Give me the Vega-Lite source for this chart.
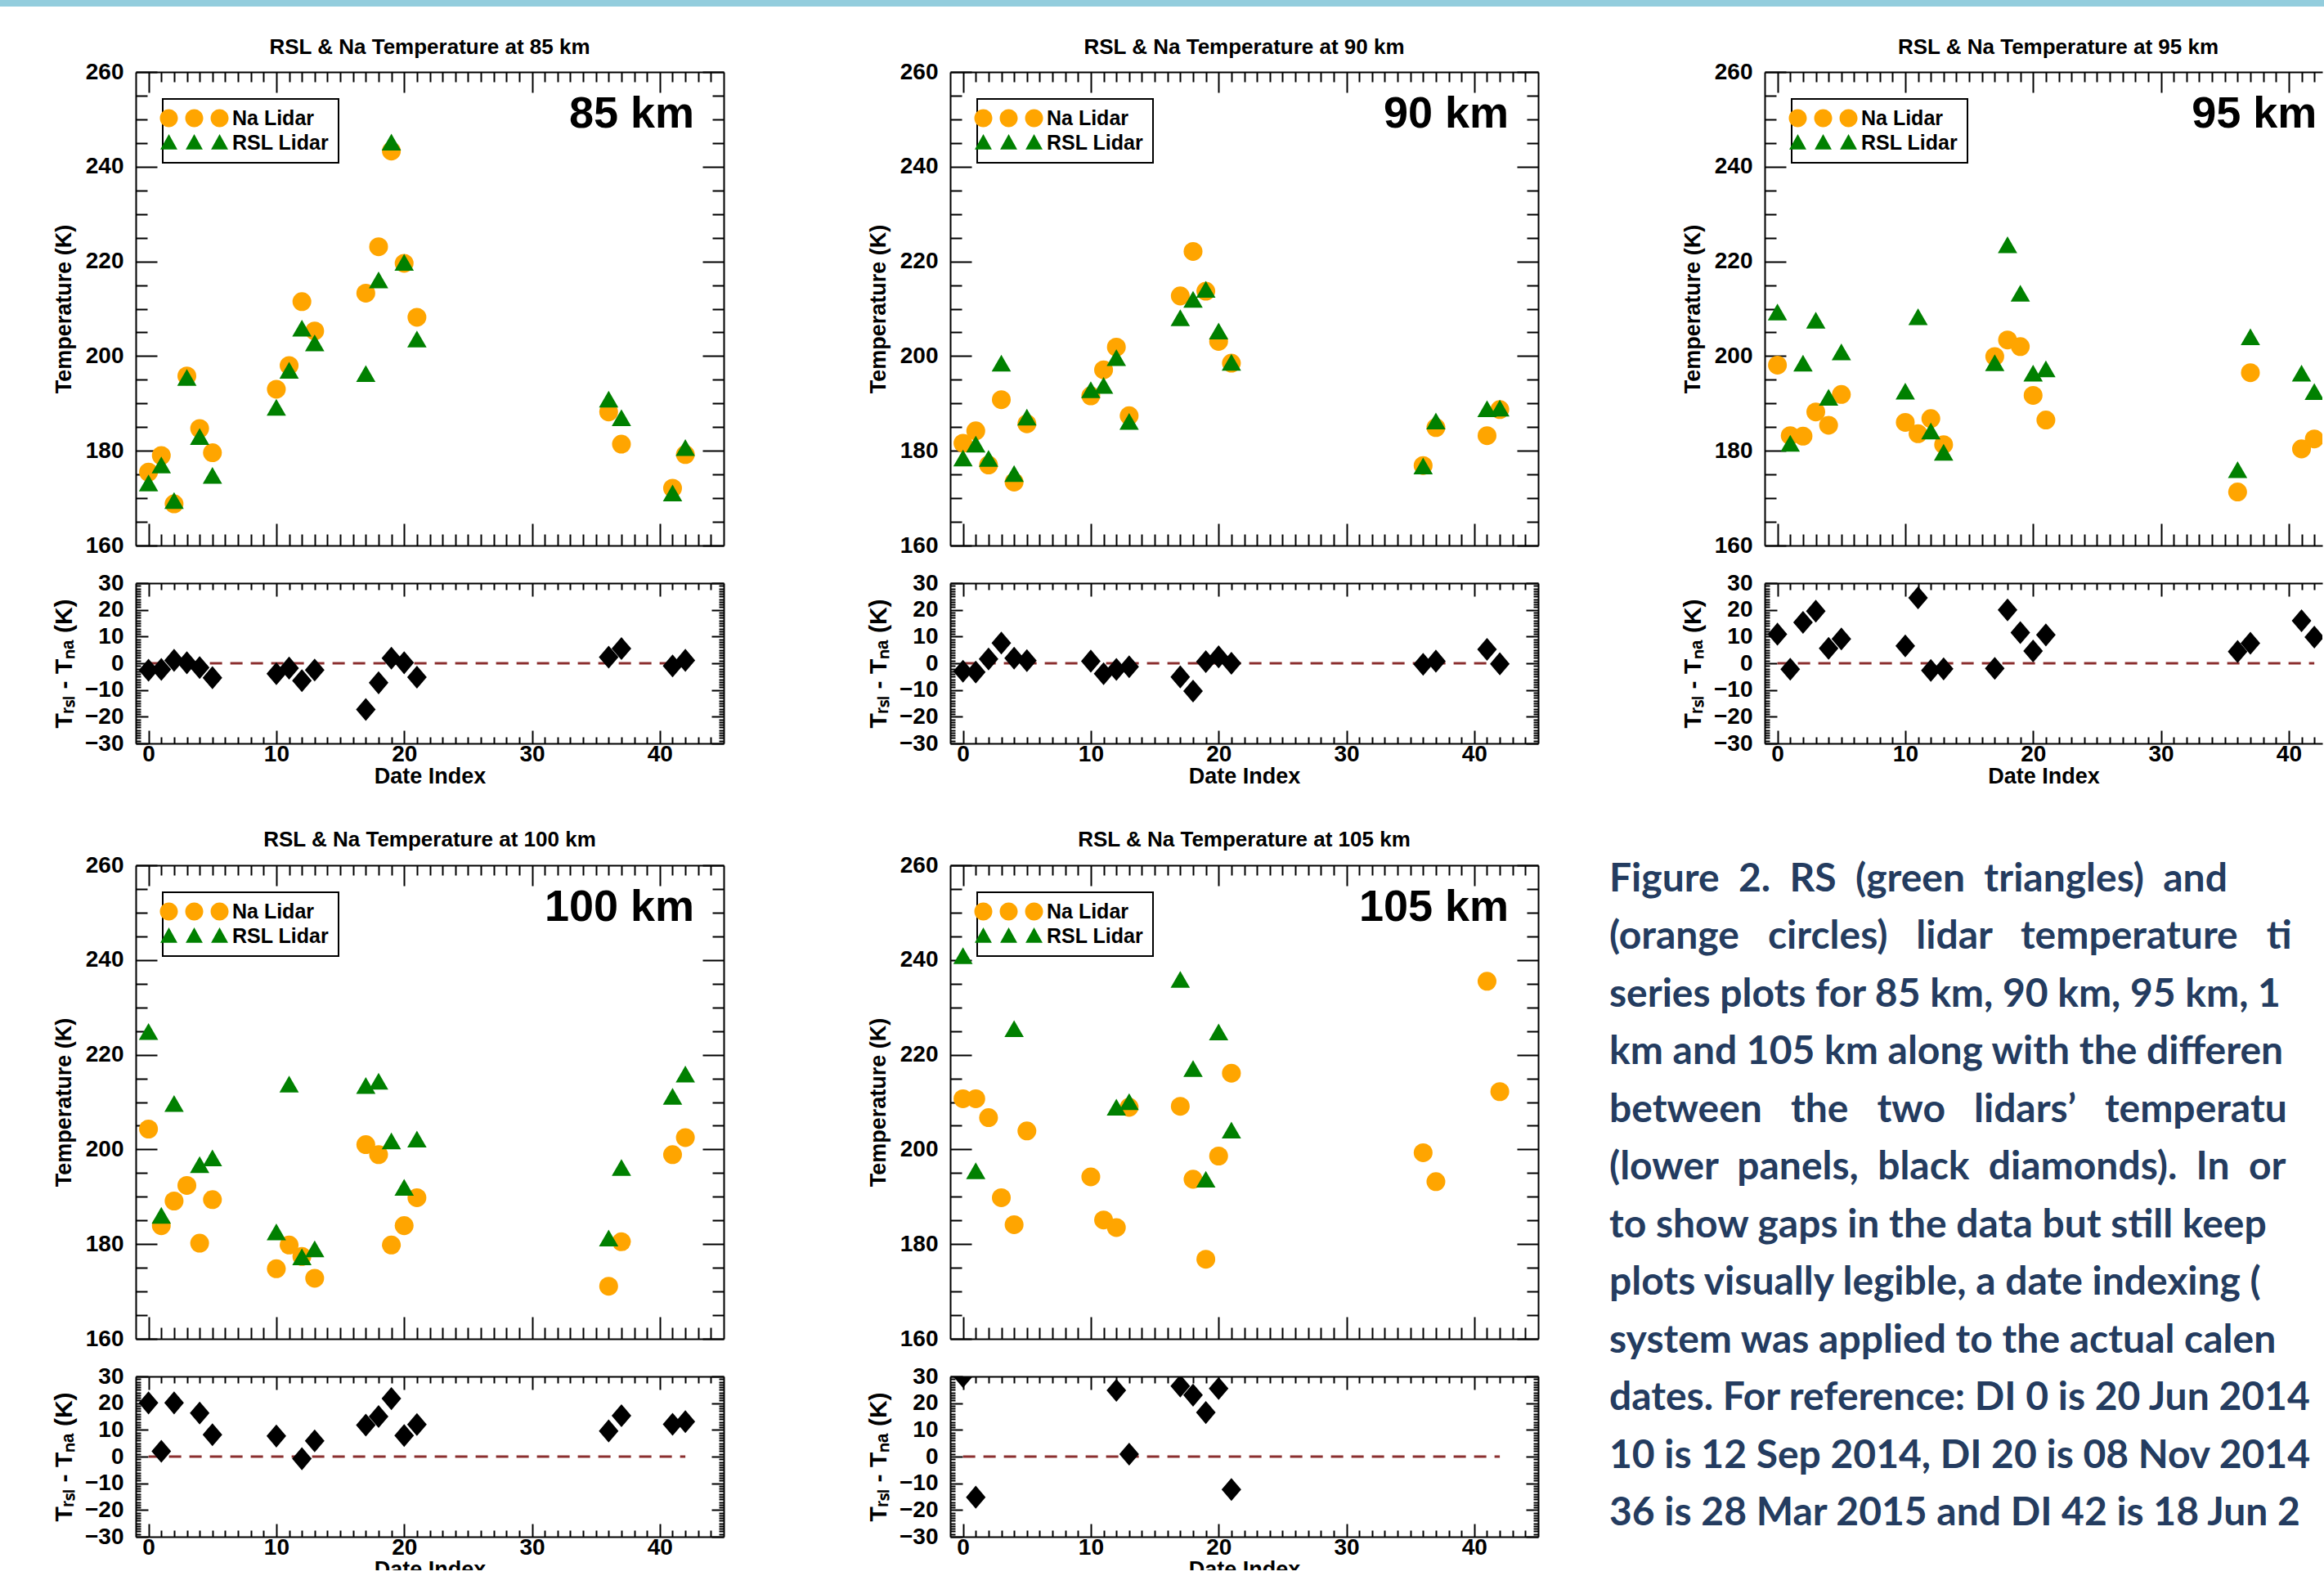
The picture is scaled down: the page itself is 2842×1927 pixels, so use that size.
{
"$schema": "https://vega.github.io/schema/vega-lite/v6.json",
"background": "white",
"padding": {"left": 0, "top": 0, "right": 0, "bottom": -12},
"config": {
 "view": {"stroke": null},
 "font": "Liberation Sans",
 "axis": {"domainColor": "black", "domainWidth": 2, "tickColor": "black", "tickWidth": 2, "labelColor": "black", "labelFont": "Liberation Sans", "labelFontWeight": "bold", "labelFontSize": 28, "titleFont": "Liberation Sans", "titleFontWeight": "bold", "titleFontSize": 27, "titleColor": "black", "grid": false, "labelFlush": false, "labelOverlap": false},
 "legend": {"orient": "top-left", "offset": 33, "padding": 11, "fillColor": "white", "strokeColor": "black", "strokeWidth": 2, "symbolSize": 484, "symbolOffset": -16, "symbolOpacity": 1, "symbolStrokeWidth": 0, "labelOffset": 65, "labelFont": "Liberation Sans", "labelFontWeight": "bold", "labelFontSize": 25, "labelColor": "black", "rowPadding": 4, "labelLimit": 400},
 "title": {"font": "Liberation Sans", "fontWeight": "bold", "color": "black", "fontSize": 26}
},
"datasets": {
 "temps": [
  {"alt":85,"di":0,"lidar":"Na Lidar","T":175.5},{"alt":85,"di":1,"lidar":"Na Lidar","T":179.0},{"alt":85,"di":2,"lidar":"Na Lidar","T":168.8},{"alt":85,"di":3,"lidar":"Na Lidar","T":195.8},{"alt":85,"di":4,"lidar":"Na Lidar","T":184.7},{"alt":85,"di":5,"lidar":"Na Lidar","T":179.6},{"alt":85,"di":10,"lidar":"Na Lidar","T":193.0},{"alt":85,"di":11,"lidar":"Na Lidar","T":198.0},{"alt":85,"di":12,"lidar":"Na Lidar","T":211.5},{"alt":85,"di":13,"lidar":"Na Lidar","T":205.3},{"alt":85,"di":17,"lidar":"Na Lidar","T":213.3},{"alt":85,"di":18,"lidar":"Na Lidar","T":223.1},{"alt":85,"di":19,"lidar":"Na Lidar","T":243.3},{"alt":85,"di":20,"lidar":"Na Lidar","T":219.6},{"alt":85,"di":21,"lidar":"Na Lidar","T":208.2},{"alt":85,"di":36,"lidar":"Na Lidar","T":188.2},{"alt":85,"di":37,"lidar":"Na Lidar","T":181.4},{"alt":85,"di":41,"lidar":"Na Lidar","T":172.1},{"alt":85,"di":42,"lidar":"Na Lidar","T":179.2},
  {"alt":85,"di":0,"lidar":"RSL Lidar","T":173.2},{"alt":85,"di":1,"lidar":"RSL Lidar","T":177.0},{"alt":85,"di":2,"lidar":"RSL Lidar","T":169.5},{"alt":85,"di":3,"lidar":"RSL Lidar","T":195.5},{"alt":85,"di":4,"lidar":"RSL Lidar","T":183.0},{"alt":85,"di":5,"lidar":"RSL Lidar","T":174.8},{"alt":85,"di":10,"lidar":"RSL Lidar","T":189.2},{"alt":85,"di":11,"lidar":"RSL Lidar","T":197.0},{"alt":85,"di":12,"lidar":"RSL Lidar","T":205.9},{"alt":85,"di":13,"lidar":"RSL Lidar","T":202.8},{"alt":85,"di":17,"lidar":"RSL Lidar","T":196.3},{"alt":85,"di":18,"lidar":"RSL Lidar","T":216.1},{"alt":85,"di":19,"lidar":"RSL Lidar","T":245.2},{"alt":85,"di":20,"lidar":"RSL Lidar","T":219.8},{"alt":85,"di":21,"lidar":"RSL Lidar","T":203.6},{"alt":85,"di":36,"lidar":"RSL Lidar","T":190.9},{"alt":85,"di":37,"lidar":"RSL Lidar","T":187.0},{"alt":85,"di":41,"lidar":"RSL Lidar","T":171.1},{"alt":85,"di":42,"lidar":"RSL Lidar","T":180.7},
  {"alt":90,"di":0,"lidar":"Na Lidar","T":181.6},{"alt":90,"di":1,"lidar":"Na Lidar","T":184.2},{"alt":90,"di":2,"lidar":"Na Lidar","T":177.0},{"alt":90,"di":3,"lidar":"Na Lidar","T":190.8},{"alt":90,"di":4,"lidar":"Na Lidar","T":173.4},{"alt":90,"di":5,"lidar":"Na Lidar","T":185.7},{"alt":90,"di":10,"lidar":"Na Lidar","T":191.6},{"alt":90,"di":11,"lidar":"Na Lidar","T":197.1},{"alt":90,"di":12,"lidar":"Na Lidar","T":201.9},{"alt":90,"di":13,"lidar":"Na Lidar","T":187.4},{"alt":90,"di":17,"lidar":"Na Lidar","T":212.7},{"alt":90,"di":18,"lidar":"Na Lidar","T":222.1},{"alt":90,"di":19,"lidar":"Na Lidar","T":213.7},{"alt":90,"di":20,"lidar":"Na Lidar","T":203.1},{"alt":90,"di":21,"lidar":"Na Lidar","T":198.5},{"alt":90,"di":36,"lidar":"Na Lidar","T":176.9},{"alt":90,"di":37,"lidar":"Na Lidar","T":184.9},{"alt":90,"di":41,"lidar":"Na Lidar","T":183.2},{"alt":90,"di":42,"lidar":"Na Lidar","T":188.7},
  {"alt":90,"di":0,"lidar":"RSL Lidar","T":178.5},{"alt":90,"di":1,"lidar":"RSL Lidar","T":181.4},{"alt":90,"di":2,"lidar":"RSL Lidar","T":178.4},{"alt":90,"di":3,"lidar":"RSL Lidar","T":198.5},{"alt":90,"di":4,"lidar":"RSL Lidar","T":175.2},{"alt":90,"di":5,"lidar":"RSL Lidar","T":187.1},{"alt":90,"di":10,"lidar":"RSL Lidar","T":192.9},{"alt":90,"di":11,"lidar":"RSL Lidar","T":193.8},{"alt":90,"di":12,"lidar":"RSL Lidar","T":199.7},{"alt":90,"di":13,"lidar":"RSL Lidar","T":186.2},{"alt":90,"di":17,"lidar":"RSL Lidar","T":208.1},{"alt":90,"di":18,"lidar":"RSL Lidar","T":212.0},{"alt":90,"di":19,"lidar":"RSL Lidar","T":214.1},{"alt":90,"di":20,"lidar":"RSL Lidar","T":205.3},{"alt":90,"di":21,"lidar":"RSL Lidar","T":198.7},{"alt":90,"di":36,"lidar":"RSL Lidar","T":176.8},{"alt":90,"di":37,"lidar":"RSL Lidar","T":186.3},{"alt":90,"di":41,"lidar":"RSL Lidar","T":188.9},{"alt":90,"di":42,"lidar":"RSL Lidar","T":189.0},
  {"alt":95,"di":0,"lidar":"Na Lidar","T":198.1},{"alt":95,"di":1,"lidar":"Na Lidar","T":183.2},{"alt":95,"di":2,"lidar":"Na Lidar","T":183.1},{"alt":95,"di":3,"lidar":"Na Lidar","T":188.2},{"alt":95,"di":4,"lidar":"Na Lidar","T":185.4},{"alt":95,"di":5,"lidar":"Na Lidar","T":191.9},{"alt":95,"di":10,"lidar":"Na Lidar","T":186.0},{"alt":95,"di":11,"lidar":"Na Lidar","T":183.6},{"alt":95,"di":12,"lidar":"Na Lidar","T":186.8},{"alt":95,"di":13,"lidar":"Na Lidar","T":181.3},{"alt":95,"di":17,"lidar":"Na Lidar","T":199.9},{"alt":95,"di":18,"lidar":"Na Lidar","T":203.4},{"alt":95,"di":19,"lidar":"Na Lidar","T":202.0},{"alt":95,"di":20,"lidar":"Na Lidar","T":191.7},{"alt":95,"di":21,"lidar":"Na Lidar","T":186.5},{"alt":95,"di":36,"lidar":"Na Lidar","T":171.3},{"alt":95,"di":37,"lidar":"Na Lidar","T":196.5},{"alt":95,"di":41,"lidar":"Na Lidar","T":180.4},{"alt":95,"di":42,"lidar":"Na Lidar","T":182.5},
  {"alt":95,"di":0,"lidar":"RSL Lidar","T":209.3},{"alt":95,"di":1,"lidar":"RSL Lidar","T":181.6},{"alt":95,"di":2,"lidar":"RSL Lidar","T":198.5},{"alt":95,"di":3,"lidar":"RSL Lidar","T":207.6},{"alt":95,"di":4,"lidar":"RSL Lidar","T":191.3},{"alt":95,"di":5,"lidar":"RSL Lidar","T":200.9},{"alt":95,"di":10,"lidar":"RSL Lidar","T":192.6},{"alt":95,"di":11,"lidar":"RSL Lidar","T":208.3},{"alt":95,"di":12,"lidar":"RSL Lidar","T":184.2},{"alt":95,"di":13,"lidar":"RSL Lidar","T":179.7},{"alt":95,"di":17,"lidar":"RSL Lidar","T":198.6},{"alt":95,"di":18,"lidar":"RSL Lidar","T":223.5},{"alt":95,"di":19,"lidar":"RSL Lidar","T":213.3},{"alt":95,"di":20,"lidar":"RSL Lidar","T":196.4},{"alt":95,"di":21,"lidar":"RSL Lidar","T":197.3},{"alt":95,"di":36,"lidar":"RSL Lidar","T":176.0},{"alt":95,"di":37,"lidar":"RSL Lidar","T":204.1},{"alt":95,"di":41,"lidar":"RSL Lidar","T":196.4},{"alt":95,"di":42,"lidar":"RSL Lidar","T":192.5},
  {"alt":100,"di":0,"lidar":"Na Lidar","T":204.3},{"alt":100,"di":1,"lidar":"Na Lidar","T":183.9},{"alt":100,"di":2,"lidar":"Na Lidar","T":189.1},{"alt":100,"di":3,"lidar":"Na Lidar","T":192.4},{"alt":100,"di":4,"lidar":"Na Lidar","T":180.2},{"alt":100,"di":5,"lidar":"Na Lidar","T":189.4},{"alt":100,"di":10,"lidar":"Na Lidar","T":174.8},{"alt":100,"di":11,"lidar":"Na Lidar","T":179.8},{"alt":100,"di":12,"lidar":"Na Lidar","T":177.4},{"alt":100,"di":13,"lidar":"Na Lidar","T":172.8},{"alt":100,"di":17,"lidar":"Na Lidar","T":201.0},{"alt":100,"di":18,"lidar":"Na Lidar","T":198.9},{"alt":100,"di":19,"lidar":"Na Lidar","T":179.8},{"alt":100,"di":20,"lidar":"Na Lidar","T":183.9},{"alt":100,"di":21,"lidar":"Na Lidar","T":189.8},{"alt":100,"di":36,"lidar":"Na Lidar","T":171.1},{"alt":100,"di":37,"lidar":"Na Lidar","T":180.5},{"alt":100,"di":41,"lidar":"Na Lidar","T":198.9},{"alt":100,"di":42,"lidar":"Na Lidar","T":202.5},
  {"alt":100,"di":0,"lidar":"RSL Lidar","T":224.9},{"alt":100,"di":1,"lidar":"RSL Lidar","T":186.1},{"alt":100,"di":2,"lidar":"RSL Lidar","T":209.7},{"alt":100,"di":4,"lidar":"RSL Lidar","T":196.8},{"alt":100,"di":5,"lidar":"RSL Lidar","T":198.2},{"alt":100,"di":10,"lidar":"RSL Lidar","T":182.6},{"alt":100,"di":11,"lidar":"RSL Lidar","T":213.8},{"alt":100,"di":12,"lidar":"RSL Lidar","T":177.3},{"alt":100,"di":13,"lidar":"RSL Lidar","T":179.0},{"alt":100,"di":17,"lidar":"RSL Lidar","T":213.5},{"alt":100,"di":18,"lidar":"RSL Lidar","T":214.4},{"alt":100,"di":19,"lidar":"RSL Lidar","T":201.8},{"alt":100,"di":20,"lidar":"RSL Lidar","T":192.0},{"alt":100,"di":21,"lidar":"RSL Lidar","T":202.2},{"alt":100,"di":36,"lidar":"RSL Lidar","T":181.3},{"alt":100,"di":37,"lidar":"RSL Lidar","T":196.2},{"alt":100,"di":41,"lidar":"RSL Lidar","T":211.2},{"alt":100,"di":42,"lidar":"RSL Lidar","T":215.9},
  {"alt":105,"di":0,"lidar":"Na Lidar","T":210.7},{"alt":105,"di":1,"lidar":"Na Lidar","T":210.7},{"alt":105,"di":2,"lidar":"Na Lidar","T":206.7},{"alt":105,"di":3,"lidar":"Na Lidar","T":189.8},{"alt":105,"di":4,"lidar":"Na Lidar","T":184.1},{"alt":105,"di":5,"lidar":"Na Lidar","T":203.9},{"alt":105,"di":10,"lidar":"Na Lidar","T":194.2},{"alt":105,"di":11,"lidar":"Na Lidar","T":185.1},{"alt":105,"di":12,"lidar":"Na Lidar","T":183.5},{"alt":105,"di":13,"lidar":"Na Lidar","T":208.9},{"alt":105,"di":17,"lidar":"Na Lidar","T":209.1},{"alt":105,"di":18,"lidar":"Na Lidar","T":193.7},{"alt":105,"di":19,"lidar":"Na Lidar","T":176.8},{"alt":105,"di":20,"lidar":"Na Lidar","T":198.6},{"alt":105,"di":21,"lidar":"Na Lidar","T":216.1},{"alt":105,"di":36,"lidar":"Na Lidar","T":199.3},{"alt":105,"di":37,"lidar":"Na Lidar","T":193.2},{"alt":105,"di":41,"lidar":"Na Lidar","T":235.5},{"alt":105,"di":42,"lidar":"Na Lidar","T":212.2},
  {"alt":105,"di":0,"lidar":"RSL Lidar","T":240.9},{"alt":105,"di":1,"lidar":"RSL Lidar","T":195.5},{"alt":105,"di":4,"lidar":"RSL Lidar","T":225.5},{"alt":105,"di":12,"lidar":"RSL Lidar","T":208.9},{"alt":105,"di":13,"lidar":"RSL Lidar","T":210.1},{"alt":105,"di":17,"lidar":"RSL Lidar","T":235.9},{"alt":105,"di":18,"lidar":"RSL Lidar","T":217.1},{"alt":105,"di":19,"lidar":"RSL Lidar","T":193.7},{"alt":105,"di":20,"lidar":"RSL Lidar","T":224.8},{"alt":105,"di":21,"lidar":"RSL Lidar","T":204.1}
 ],
 "diffs": [
  {"alt":85,"di":0,"d":-2.6},{"alt":85,"di":1,"d":-2.3},{"alt":85,"di":2,"d":1.1},{"alt":85,"di":3,"d":0.2},{"alt":85,"di":4,"d":-1.6},{"alt":85,"di":5,"d":-5.4},{"alt":85,"di":10,"d":-3.9},{"alt":85,"di":11,"d":-1.8},{"alt":85,"di":12,"d":-6.5},{"alt":85,"di":13,"d":-2.5},{"alt":85,"di":17,"d":-17.3},{"alt":85,"di":18,"d":-7.3},{"alt":85,"di":19,"d":1.9},{"alt":85,"di":20,"d":0.2},{"alt":85,"di":21,"d":-5.2},{"alt":85,"di":36,"d":2.3},{"alt":85,"di":37,"d":5.5},{"alt":85,"di":41,"d":-1.0},{"alt":85,"di":42,"d":1.1},
  {"alt":90,"di":0,"d":-3.0},{"alt":90,"di":1,"d":-3.3},{"alt":90,"di":2,"d":1.6},{"alt":90,"di":3,"d":7.6},{"alt":90,"di":4,"d":1.9},{"alt":90,"di":5,"d":1.0},{"alt":90,"di":10,"d":0.8},{"alt":90,"di":11,"d":-3.9},{"alt":90,"di":12,"d":-2.3},{"alt":90,"di":13,"d":-1.3},{"alt":90,"di":17,"d":-5.1},{"alt":90,"di":18,"d":-10.4},{"alt":90,"di":19,"d":0.6},{"alt":90,"di":20,"d":2.4},{"alt":90,"di":21,"d":0.0},{"alt":90,"di":36,"d":-0.4},{"alt":90,"di":37,"d":0.8},{"alt":90,"di":41,"d":5.2},{"alt":90,"di":42,"d":-0.2},
  {"alt":95,"di":0,"d":10.9},{"alt":95,"di":1,"d":-2.2},{"alt":95,"di":2,"d":15.3},{"alt":95,"di":3,"d":19.5},{"alt":95,"di":4,"d":5.6},{"alt":95,"di":5,"d":9.1},{"alt":95,"di":10,"d":6.5},{"alt":95,"di":11,"d":24.5},{"alt":95,"di":12,"d":-2.7},{"alt":95,"di":13,"d":-2.1},{"alt":95,"di":17,"d":-1.9},{"alt":95,"di":18,"d":20.0},{"alt":95,"di":19,"d":11.5},{"alt":95,"di":20,"d":4.6},{"alt":95,"di":21,"d":10.6},{"alt":95,"di":36,"d":4.4},{"alt":95,"di":37,"d":7.5},{"alt":95,"di":41,"d":15.9},{"alt":95,"di":42,"d":9.8},
  {"alt":100,"di":0,"d":20.1},{"alt":100,"di":1,"d":2.0},{"alt":100,"di":2,"d":20.1},{"alt":100,"di":4,"d":16.3},{"alt":100,"di":5,"d":8.2},{"alt":100,"di":10,"d":7.7},{"alt":100,"di":12,"d":-0.8},{"alt":100,"di":13,"d":5.9},{"alt":100,"di":17,"d":11.8},{"alt":100,"di":18,"d":15.0},{"alt":100,"di":19,"d":21.7},{"alt":100,"di":20,"d":7.9},{"alt":100,"di":21,"d":12.0},{"alt":100,"di":36,"d":9.6},{"alt":100,"di":37,"d":15.3},{"alt":100,"di":41,"d":12.1},{"alt":100,"di":42,"d":13.1},
  {"alt":105,"di":0,"d":30.0},{"alt":105,"di":1,"d":-15.2},{"alt":105,"di":12,"d":24.8},{"alt":105,"di":13,"d":0.9},{"alt":105,"di":17,"d":26.4},{"alt":105,"di":18,"d":23.0},{"alt":105,"di":19,"d":16.5},{"alt":105,"di":20,"d":25.5},{"alt":105,"di":21,"d":-12.3}
 ],
 "caption": [
  {"line":1,"text":"Figure \u00a02. \u00a0RS \u00a0(green \u00a0triangles) \u00a0and"},
  {"line":2,"text":"(orange \u00a0\u00a0circles) \u00a0\u00a0lidar \u00a0\u00a0temperature \u00a0\u00a0ti"},
  {"line":3,"text":"series plots for 85 km, 90 km, 95 km, 1"},
  {"line":4,"text":"km and 105 km along with the differen"},
  {"line":5,"text":"between \u00a0\u00a0the \u00a0\u00a0two \u00a0\u00a0lidars’ \u00a0\u00a0temperatu"},
  {"line":6,"text":"(lower \u00a0panels, \u00a0black \u00a0diamonds). \u00a0In \u00a0or"},
  {"line":7,"text":"to show gaps in the data but still keep"},
  {"line":8,"text":"plots visually legible, a date indexing ("},
  {"line":9,"text":"system was applied to the actual calen"},
  {"line":10,"text":"dates. For reference: DI 0 is 20 Jun 2014"},
  {"line":11,"text":"10 is 12 Sep 2014, DI 20 is 08 Nov 2014"},
  {"line":12,"text":"36 is 28 Mar 2015 and DI 42 is 18 Jun 20"}
 ]
},
"columns": 3,
"spacing": {"row": 46, "column": 277},
"bounds": "flush",
"align": "each",
"resolve": {"scale": {"color": "independent", "shape": "independent"}, "legend": {"color": "independent", "shape": "independent"}},
"concat": [
 {"width": 719, "height": 42,
  "title": {"text": "RSL & Na Temperature at 85 km", "orient": "bottom", "anchor": "middle", "frame": "group", "baseline": "alphabetic", "offset": 24},
  "data": {"values": [{}]},
  "mark": {"type": "rect", "color": "#93CDDD"},
  "encoding": {"x": {"value": -166}, "x2": {"value": 2676}, "y": {"value": 0}, "y2": {"value": 8}}},
 {"width": 719, "height": 42,
  "title": {"text": "RSL & Na Temperature at 90 km", "orient": "bottom", "anchor": "middle", "frame": "group", "baseline": "alphabetic", "offset": 24},
  "data": {"values": [{}]}, "mark": {"type": "point", "opacity": 0}},
 {"width": 682, "height": 42,
  "title": {"text": "RSL & Na Temperature at 95 km", "orient": "bottom", "anchor": "middle", "frame": "group", "baseline": "alphabetic", "offset": 24, "dx": 18},
  "data": {"values": [{}]}, "mark": {"type": "point", "opacity": 0}},

 {"width": 719, "height": 579,
  "layer": [
   {"data": {"name": "temps"}, "transform": [{"filter": "datum.alt == 85 && datum.lidar == 'Na Lidar'"}],
    "mark": {"type": "circle", "color": "#FFA500", "size": 530, "opacity": 1, "clip": true},
    "encoding": {
     "x": {"field": "di", "type": "quantitative", "scale": {"domain": [-1, 45], "nice": false, "zero": false}, "axis": {"orient": "bottom", "values": [0,10,20,30,40], "tickSize": -27, "labels": false, "title": null}},
     "y": {"field": "T", "type": "quantitative", "scale": {"domain": [160, 260], "nice": false, "zero": false}, "axis": {"orient": "left", "values": [160,180,200,220,240,260], "tickSize": -26, "labelPadding": 41, "title": "Temperature (K)", "titlePadding": 12}}}},
   {"data": {"name": "temps"}, "transform": [{"filter": "datum.alt == 85 && datum.lidar == 'RSL Lidar'"}],
    "mark": {"type": "point", "shape": "triangle-up", "filled": true, "color": "#008000", "size": 560, "opacity": 1, "clip": true},
    "encoding": {
     "x": {"field": "di", "type": "quantitative", "axis": {"orient": "bottom", "values": [1,2,3,4,5,6,7,8,9,11,12,13,14,15,16,17,18,19,21,22,23,24,25,26,27,28,29,31,32,33,34,35,36,37,38,39,41,42,43,44], "tickSize": -14, "labels": false, "domain": false, "title": null}},
     "y": {"field": "T", "type": "quantitative", "axis": {"orient": "left", "values": [165,170,175,185,190,195,205,210,215,225,230,235,245,250,255], "tickSize": -14, "labels": false, "domain": false, "title": null}}}},
   {"data": {"name": "temps"}, "transform": [{"filter": "false"}],
    "mark": {"type": "point", "filled": true, "opacity": 1},
    "encoding": {
     "x": {"field": "di", "type": "quantitative", "axis": {"orient": "top", "values": [0,10,20,30,40], "tickSize": -25, "labels": false, "title": null}},
     "y": {"field": "T", "type": "quantitative", "axis": {"orient": "right", "values": [160,180,200,220,240,260], "tickSize": -26, "labels": false, "title": null}},
     "color": {"field": "lidar", "type": "nominal", "scale": {"domain": ["Na Lidar", "RSL Lidar"], "range": ["#FFA500", "#008000"]}, "legend": {"title": null}},
     "shape": {"field": "lidar", "type": "nominal", "scale": {"domain": ["Na Lidar", "RSL Lidar"], "range": ["M-1,0A1,1,0,1,0,1,0A1,1,0,1,0,-1,0ZM1.82,0A1,1,0,1,0,3.82,0A1,1,0,1,0,1.82,0ZM4.64,0A1,1,0,1,0,6.64,0A1,1,0,1,0,4.64,0Z", "M0,-0.95L0.95,0.75L-0.95,0.75ZM2.82,-0.95L3.77,0.75L1.87,0.75ZM5.64,-0.95L6.59,0.75L4.69,0.75Z"]}, "legend": {"title": null}}}},
   {"data": {"values": [{}]}, "mark": {"type": "point", "opacity": 0},
    "encoding": {
     "x": {"datum": 0, "type": "quantitative", "axis": {"orient": "top", "values": [1,2,3,4,5,6,7,8,9,11,12,13,14,15,16,17,18,19,21,22,23,24,25,26,27,28,29,31,32,33,34,35,36,37,38,39,41,42,43,44], "tickSize": -12, "labels": false, "domain": false, "title": null}},
     "y": {"datum": 200, "type": "quantitative", "axis": {"orient": "right", "values": [165,170,175,185,190,195,205,210,215,225,230,235,245,250,255], "tickSize": -14, "labels": false, "domain": false, "title": null}}}},
   {"data": {"values": [{}]}, "mark": {"type": "text", "align": "right", "baseline": "alphabetic", "font": "Liberation Sans", "fontWeight": "bold", "fontSize": 54, "color": "black"},
    "encoding": {"x": {"datum": 42.7, "type": "quantitative", "axis": null}, "y": {"datum": 248.3, "type": "quantitative", "axis": null}, "text": {"value": "85 km"}}}
  ],
  "resolve": {"axis": {"x": "independent", "y": "independent"}}},
 {"width": 719, "height": 579,
  "layer": [
   {"data": {"name": "temps"}, "transform": [{"filter": "datum.alt == 90 && datum.lidar == 'Na Lidar'"}],
    "mark": {"type": "circle", "color": "#FFA500", "size": 530, "opacity": 1, "clip": true},
    "encoding": {
     "x": {"field": "di", "type": "quantitative", "scale": {"domain": [-1, 45], "nice": false, "zero": false}, "axis": {"orient": "bottom", "values": [0,10,20,30,40], "tickSize": -27, "labels": false, "title": null}},
     "y": {"field": "T", "type": "quantitative", "scale": {"domain": [160, 260], "nice": false, "zero": false}, "axis": {"orient": "left", "values": [160,180,200,220,240,260], "tickSize": -26, "labelPadding": 41, "title": "Temperature (K)", "titlePadding": 12}}}},
   {"data": {"name": "temps"}, "transform": [{"filter": "datum.alt == 90 && datum.lidar == 'RSL Lidar'"}],
    "mark": {"type": "point", "shape": "triangle-up", "filled": true, "color": "#008000", "size": 560, "opacity": 1, "clip": true},
    "encoding": {
     "x": {"field": "di", "type": "quantitative", "axis": {"orient": "bottom", "values": [1,2,3,4,5,6,7,8,9,11,12,13,14,15,16,17,18,19,21,22,23,24,25,26,27,28,29,31,32,33,34,35,36,37,38,39,41,42,43,44], "tickSize": -14, "labels": false, "domain": false, "title": null}},
     "y": {"field": "T", "type": "quantitative", "axis": {"orient": "left", "values": [165,170,175,185,190,195,205,210,215,225,230,235,245,250,255], "tickSize": -14, "labels": false, "domain": false, "title": null}}}},
   {"data": {"name": "temps"}, "transform": [{"filter": "false"}],
    "mark": {"type": "point", "filled": true, "opacity": 1},
    "encoding": {
     "x": {"field": "di", "type": "quantitative", "axis": {"orient": "top", "values": [0,10,20,30,40], "tickSize": -25, "labels": false, "title": null}},
     "y": {"field": "T", "type": "quantitative", "axis": {"orient": "right", "values": [160,180,200,220,240,260], "tickSize": -26, "labels": false, "title": null}},
     "color": {"field": "lidar", "type": "nominal", "scale": {"domain": ["Na Lidar", "RSL Lidar"], "range": ["#FFA500", "#008000"]}, "legend": {"title": null}},
     "shape": {"field": "lidar", "type": "nominal", "scale": {"domain": ["Na Lidar", "RSL Lidar"], "range": ["M-1,0A1,1,0,1,0,1,0A1,1,0,1,0,-1,0ZM1.82,0A1,1,0,1,0,3.82,0A1,1,0,1,0,1.82,0ZM4.64,0A1,1,0,1,0,6.64,0A1,1,0,1,0,4.64,0Z", "M0,-0.95L0.95,0.75L-0.95,0.75ZM2.82,-0.95L3.77,0.75L1.87,0.75ZM5.64,-0.95L6.59,0.75L4.69,0.75Z"]}, "legend": {"title": null}}}},
   {"data": {"values": [{}]}, "mark": {"type": "point", "opacity": 0},
    "encoding": {
     "x": {"datum": 0, "type": "quantitative", "axis": {"orient": "top", "values": [1,2,3,4,5,6,7,8,9,11,12,13,14,15,16,17,18,19,21,22,23,24,25,26,27,28,29,31,32,33,34,35,36,37,38,39,41,42,43,44], "tickSize": -12, "labels": false, "domain": false, "title": null}},
     "y": {"datum": 200, "type": "quantitative", "axis": {"orient": "right", "values": [165,170,175,185,190,195,205,210,215,225,230,235,245,250,255], "tickSize": -14, "labels": false, "domain": false, "title": null}}}},
   {"data": {"values": [{}]}, "mark": {"type": "text", "align": "right", "baseline": "alphabetic", "font": "Liberation Sans", "fontWeight": "bold", "fontSize": 54, "color": "black"},
    "encoding": {"x": {"datum": 42.7, "type": "quantitative", "axis": null}, "y": {"datum": 248.3, "type": "quantitative", "axis": null}, "text": {"value": "90 km"}}}
  ],
  "resolve": {"axis": {"x": "independent", "y": "independent"}}},
 {"width": 682, "height": 579,
  "layer": [
   {"data": {"name": "temps"}, "transform": [{"filter": "datum.alt == 95 && datum.lidar == 'Na Lidar'"}],
    "mark": {"type": "circle", "color": "#FFA500", "size": 530, "opacity": 1, "clip": true},
    "encoding": {
     "x": {"field": "di", "type": "quantitative", "scale": {"domain": [-1, 42.63], "nice": false, "zero": false}, "axis": {"orient": "bottom", "values": [0,10,20,30,40], "tickSize": -27, "labels": false, "title": null}},
     "y": {"field": "T", "type": "quantitative", "scale": {"domain": [160, 260], "nice": false, "zero": false}, "axis": {"orient": "left", "values": [160,180,200,220,240,260], "tickSize": -26, "labelPadding": 41, "title": "Temperature (K)", "titlePadding": 12}}}},
   {"data": {"name": "temps"}, "transform": [{"filter": "datum.alt == 95 && datum.lidar == 'RSL Lidar'"}],
    "mark": {"type": "point", "shape": "triangle-up", "filled": true, "color": "#008000", "size": 560, "opacity": 1, "clip": true},
    "encoding": {
     "x": {"field": "di", "type": "quantitative", "axis": {"orient": "bottom", "values": [1,2,3,4,5,6,7,8,9,11,12,13,14,15,16,17,18,19,21,22,23,24,25,26,27,28,29,31,32,33,34,35,36,37,38,39,41,42], "tickSize": -14, "labels": false, "domain": false, "title": null}},
     "y": {"field": "T", "type": "quantitative", "axis": {"orient": "left", "values": [165,170,175,185,190,195,205,210,215,225,230,235,245,250,255], "tickSize": -14, "labels": false, "domain": false, "title": null}}}},
   {"data": {"name": "temps"}, "transform": [{"filter": "false"}],
    "mark": {"type": "point", "filled": true, "opacity": 1},
    "encoding": {
     "x": {"field": "di", "type": "quantitative", "axis": {"orient": "top", "values": [0,10,20,30,40], "tickSize": -25, "labels": false, "title": null}},
     "y": {"field": "T", "type": "quantitative", "axis": null},
     "color": {"field": "lidar", "type": "nominal", "scale": {"domain": ["Na Lidar", "RSL Lidar"], "range": ["#FFA500", "#008000"]}, "legend": {"title": null}},
     "shape": {"field": "lidar", "type": "nominal", "scale": {"domain": ["Na Lidar", "RSL Lidar"], "range": ["M-1,0A1,1,0,1,0,1,0A1,1,0,1,0,-1,0ZM1.82,0A1,1,0,1,0,3.82,0A1,1,0,1,0,1.82,0ZM4.64,0A1,1,0,1,0,6.64,0A1,1,0,1,0,4.64,0Z", "M0,-0.95L0.95,0.75L-0.95,0.75ZM2.82,-0.95L3.77,0.75L1.87,0.75ZM5.64,-0.95L6.59,0.75L4.69,0.75Z"]}, "legend": {"title": null}}}},
   {"data": {"values": [{}]}, "mark": {"type": "point", "opacity": 0},
    "encoding": {
     "x": {"datum": 0, "type": "quantitative", "axis": {"orient": "top", "values": [1,2,3,4,5,6,7,8,9,11,12,13,14,15,16,17,18,19,21,22,23,24,25,26,27,28,29,31,32,33,34,35,36,37,38,39,41,42], "tickSize": -12, "labels": false, "domain": false, "title": null}},
     "y": {"datum": 200, "type": "quantitative", "axis": null}}},
   {"data": {"values": [{}]}, "mark": {"type": "text", "align": "right", "baseline": "alphabetic", "font": "Liberation Sans", "fontWeight": "bold", "fontSize": 54, "color": "black"},
    "encoding": {"x": {"datum": 42.2, "type": "quantitative", "axis": null}, "y": {"datum": 248.3, "type": "quantitative", "axis": null}, "text": {"value": "95 km"}}}
  ],
  "resolve": {"axis": {"x": "independent", "y": "independent"}}},

 {"width": 719, "height": 196,
  "layer": [
   {"data": {"values": [{}]}, "mark": {"type": "rule", "color": "#8B2F2F", "strokeWidth": 3, "strokeDash": [15, 10]},
    "encoding": {
     "x": {"datum": 0, "type": "quantitative", "scale": {"domain": [-1, 45], "nice": false, "zero": false}, "axis": {"orient": "bottom", "values": [1,2,3,4,5,6,7,8,9,11,12,13,14,15,16,17,18,19,21,22,23,24,25,26,27,28,29,31,32,33,34,35,36,37,38,39,41,42,43,44], "tickSize": -8, "labels": false, "domain": false, "title": null}},
     "x2": {"datum": 42},
     "y": {"datum": 0, "type": "quantitative", "scale": {"domain": [-30, 30], "nice": false, "zero": false}, "axis": {"orient": "left", "values": [-29,-28,-27,-26,-25,-24,-23,-22,-21,-19,-18,-17,-16,-15,-14,-13,-12,-11,-9,-8,-7,-6,-5,-4,-3,-2,-1,1,2,3,4,5,6,7,8,9,11,12,13,14,15,16,17,18,19,21,22,23,24,25,26,27,28,29], "tickSize": -6, "labels": false, "domain": false, "title": null}}}},
   {"data": {"name": "diffs"}, "transform": [{"filter": "datum.alt == 85"}],
    "mark": {"type": "point", "shape": "M0,-1.17L1,0L0,1.17L-1,0Z", "filled": true, "color": "black", "size": 576, "opacity": 1, "clip": true},
    "encoding": {
     "x": {"field": "di", "type": "quantitative", "axis": {"orient": "bottom", "values": [0,10,20,30,40], "tickSize": -16, "labelPadding": 15, "title": "Date Index", "titlePadding": 0}},
     "y": {"field": "d", "type": "quantitative", "axis": {"orient": "left", "values": [-30,-20,-10,0,10,20,30], "tickSize": -15, "labelPadding": 30, "title": "Tᵣₛₗ - Tₙₐ (K)", "titleFontSize": 30, "titlePadding": 10}}}},
   {"data": {"values": [{}]}, "mark": {"type": "point", "opacity": 0},
    "encoding": {
     "x": {"datum": 0, "type": "quantitative", "axis": {"orient": "top", "values": [0,10,20,30,40], "tickSize": -16, "labels": false, "title": null}},
     "y": {"datum": 0, "type": "quantitative", "axis": {"orient": "right", "values": [-30,-20,-10,0,10,20,30], "tickSize": -15, "labels": false, "title": null}}}},
   {"data": {"values": [{}]}, "mark": {"type": "point", "opacity": 0},
    "encoding": {
     "x": {"datum": 0, "type": "quantitative", "axis": {"orient": "top", "values": [1,2,3,4,5,6,7,8,9,11,12,13,14,15,16,17,18,19,21,22,23,24,25,26,27,28,29,31,32,33,34,35,36,37,38,39,41,42,43,44], "tickSize": -8, "labels": false, "domain": false, "title": null}},
     "y": {"datum": 0, "type": "quantitative", "axis": {"orient": "right", "values": [-29,-28,-27,-26,-25,-24,-23,-22,-21,-19,-18,-17,-16,-15,-14,-13,-12,-11,-9,-8,-7,-6,-5,-4,-3,-2,-1,1,2,3,4,5,6,7,8,9,11,12,13,14,15,16,17,18,19,21,22,23,24,25,26,27,28,29], "tickSize": -6, "labels": false, "domain": false, "title": null}}}}
  ],
  "resolve": {"axis": {"x": "independent", "y": "independent"}}},
 {"width": 719, "height": 196,
  "layer": [
   {"data": {"values": [{}]}, "mark": {"type": "rule", "color": "#8B2F2F", "strokeWidth": 3, "strokeDash": [15, 10]},
    "encoding": {
     "x": {"datum": 0, "type": "quantitative", "scale": {"domain": [-1, 45], "nice": false, "zero": false}, "axis": {"orient": "bottom", "values": [1,2,3,4,5,6,7,8,9,11,12,13,14,15,16,17,18,19,21,22,23,24,25,26,27,28,29,31,32,33,34,35,36,37,38,39,41,42,43,44], "tickSize": -8, "labels": false, "domain": false, "title": null}},
     "x2": {"datum": 42},
     "y": {"datum": 0, "type": "quantitative", "scale": {"domain": [-30, 30], "nice": false, "zero": false}, "axis": {"orient": "left", "values": [-29,-28,-27,-26,-25,-24,-23,-22,-21,-19,-18,-17,-16,-15,-14,-13,-12,-11,-9,-8,-7,-6,-5,-4,-3,-2,-1,1,2,3,4,5,6,7,8,9,11,12,13,14,15,16,17,18,19,21,22,23,24,25,26,27,28,29], "tickSize": -6, "labels": false, "domain": false, "title": null}}}},
   {"data": {"name": "diffs"}, "transform": [{"filter": "datum.alt == 90"}],
    "mark": {"type": "point", "shape": "M0,-1.17L1,0L0,1.17L-1,0Z", "filled": true, "color": "black", "size": 576, "opacity": 1, "clip": true},
    "encoding": {
     "x": {"field": "di", "type": "quantitative", "axis": {"orient": "bottom", "values": [0,10,20,30,40], "tickSize": -16, "labelPadding": 15, "title": "Date Index", "titlePadding": 0}},
     "y": {"field": "d", "type": "quantitative", "axis": {"orient": "left", "values": [-30,-20,-10,0,10,20,30], "tickSize": -15, "labelPadding": 30, "title": "Tᵣₛₗ - Tₙₐ (K)", "titleFontSize": 30, "titlePadding": 10}}}},
   {"data": {"values": [{}]}, "mark": {"type": "point", "opacity": 0},
    "encoding": {
     "x": {"datum": 0, "type": "quantitative", "axis": {"orient": "top", "values": [0,10,20,30,40], "tickSize": -16, "labels": false, "title": null}},
     "y": {"datum": 0, "type": "quantitative", "axis": {"orient": "right", "values": [-30,-20,-10,0,10,20,30], "tickSize": -15, "labels": false, "title": null}}}},
   {"data": {"values": [{}]}, "mark": {"type": "point", "opacity": 0},
    "encoding": {
     "x": {"datum": 0, "type": "quantitative", "axis": {"orient": "top", "values": [1,2,3,4,5,6,7,8,9,11,12,13,14,15,16,17,18,19,21,22,23,24,25,26,27,28,29,31,32,33,34,35,36,37,38,39,41,42,43,44], "tickSize": -8, "labels": false, "domain": false, "title": null}},
     "y": {"datum": 0, "type": "quantitative", "axis": {"orient": "right", "values": [-29,-28,-27,-26,-25,-24,-23,-22,-21,-19,-18,-17,-16,-15,-14,-13,-12,-11,-9,-8,-7,-6,-5,-4,-3,-2,-1,1,2,3,4,5,6,7,8,9,11,12,13,14,15,16,17,18,19,21,22,23,24,25,26,27,28,29], "tickSize": -6, "labels": false, "domain": false, "title": null}}}}
  ],
  "resolve": {"axis": {"x": "independent", "y": "independent"}}},
 {"width": 682, "height": 196,
  "layer": [
   {"data": {"values": [{}]}, "mark": {"type": "rule", "color": "#8B2F2F", "strokeWidth": 3, "strokeDash": [15, 10]},
    "encoding": {
     "x": {"datum": 0, "type": "quantitative", "scale": {"domain": [-1, 42.63], "nice": false, "zero": false}, "axis": {"orient": "bottom", "values": [1,2,3,4,5,6,7,8,9,11,12,13,14,15,16,17,18,19,21,22,23,24,25,26,27,28,29,31,32,33,34,35,36,37,38,39,41,42], "tickSize": -8, "labels": false, "domain": false, "title": null}},
     "x2": {"datum": 42},
     "y": {"datum": 0, "type": "quantitative", "scale": {"domain": [-30, 30], "nice": false, "zero": false}, "axis": {"orient": "left", "values": [-29,-28,-27,-26,-25,-24,-23,-22,-21,-19,-18,-17,-16,-15,-14,-13,-12,-11,-9,-8,-7,-6,-5,-4,-3,-2,-1,1,2,3,4,5,6,7,8,9,11,12,13,14,15,16,17,18,19,21,22,23,24,25,26,27,28,29], "tickSize": -6, "labels": false, "domain": false, "title": null}}}},
   {"data": {"name": "diffs"}, "transform": [{"filter": "datum.alt == 95"}],
    "mark": {"type": "point", "shape": "M0,-1.17L1,0L0,1.17L-1,0Z", "filled": true, "color": "black", "size": 576, "opacity": 1, "clip": true},
    "encoding": {
     "x": {"field": "di", "type": "quantitative", "axis": {"orient": "bottom", "values": [0,10,20,30,40], "tickSize": -16, "labelPadding": 15, "title": "Date Index", "titlePadding": 0}},
     "y": {"field": "d", "type": "quantitative", "axis": {"orient": "left", "values": [-30,-20,-10,0,10,20,30], "tickSize": -15, "labelPadding": 30, "title": "Tᵣₛₗ - Tₙₐ (K)", "titleFontSize": 30, "titlePadding": 10}}}},
   {"data": {"values": [{}]}, "mark": {"type": "point", "opacity": 0},
    "encoding": {
     "x": {"datum": 0, "type": "quantitative", "axis": {"orient": "top", "values": [0,10,20,30,40], "tickSize": -16, "labels": false, "title": null}},
     "y": {"datum": 0, "type": "quantitative", "axis": null}}},
   {"data": {"values": [{}]}, "mark": {"type": "point", "opacity": 0},
    "encoding": {
     "x": {"datum": 0, "type": "quantitative", "axis": {"orient": "top", "values": [1,2,3,4,5,6,7,8,9,11,12,13,14,15,16,17,18,19,21,22,23,24,25,26,27,28,29,31,32,33,34,35,36,37,38,39,41,42], "tickSize": -8, "labels": false, "domain": false, "title": null}},
     "y": {"datum": 0, "type": "quantitative", "axis": null}}}
  ],
  "resolve": {"axis": {"x": "independent", "y": "independent"}}},

 {"width": 719, "height": 57,
  "title": {"text": "RSL & Na Temperature at 100 km", "orient": "bottom", "anchor": "middle", "frame": "group", "baseline": "alphabetic", "offset": 23},
  "data": {"values": [{}]}, "mark": {"type": "point", "opacity": 0}},
 {"width": 719, "height": 57,
  "title": {"text": "RSL & Na Temperature at 105 km", "orient": "bottom", "anchor": "middle", "frame": "group", "baseline": "alphabetic", "offset": 23},
  "data": {"values": [{}]}, "mark": {"type": "point", "opacity": 0}},
 {"width": 682, "height": 57, "data": {"values": [{}]}, "mark": {"type": "point", "opacity": 0}},

 {"width": 719, "height": 579,
  "layer": [
   {"data": {"name": "temps"}, "transform": [{"filter": "datum.alt == 100 && datum.lidar == 'Na Lidar'"}],
    "mark": {"type": "circle", "color": "#FFA500", "size": 530, "opacity": 1, "clip": true},
    "encoding": {
     "x": {"field": "di", "type": "quantitative", "scale": {"domain": [-1, 45], "nice": false, "zero": false}, "axis": {"orient": "bottom", "values": [0,10,20,30,40], "tickSize": -27, "labels": false, "title": null}},
     "y": {"field": "T", "type": "quantitative", "scale": {"domain": [160, 260], "nice": false, "zero": false}, "axis": {"orient": "left", "values": [160,180,200,220,240,260], "tickSize": -26, "labelPadding": 41, "title": "Temperature (K)", "titlePadding": 12}}}},
   {"data": {"name": "temps"}, "transform": [{"filter": "datum.alt == 100 && datum.lidar == 'RSL Lidar'"}],
    "mark": {"type": "point", "shape": "triangle-up", "filled": true, "color": "#008000", "size": 560, "opacity": 1, "clip": true},
    "encoding": {
     "x": {"field": "di", "type": "quantitative", "axis": {"orient": "bottom", "values": [1,2,3,4,5,6,7,8,9,11,12,13,14,15,16,17,18,19,21,22,23,24,25,26,27,28,29,31,32,33,34,35,36,37,38,39,41,42,43,44], "tickSize": -14, "labels": false, "domain": false, "title": null}},
     "y": {"field": "T", "type": "quantitative", "axis": {"orient": "left", "values": [165,170,175,185,190,195,205,210,215,225,230,235,245,250,255], "tickSize": -14, "labels": false, "domain": false, "title": null}}}},
   {"data": {"name": "temps"}, "transform": [{"filter": "false"}],
    "mark": {"type": "point", "filled": true, "opacity": 1},
    "encoding": {
     "x": {"field": "di", "type": "quantitative", "axis": {"orient": "top", "values": [0,10,20,30,40], "tickSize": -25, "labels": false, "title": null}},
     "y": {"field": "T", "type": "quantitative", "axis": {"orient": "right", "values": [160,180,200,220,240,260], "tickSize": -26, "labels": false, "title": null}},
     "color": {"field": "lidar", "type": "nominal", "scale": {"domain": ["Na Lidar", "RSL Lidar"], "range": ["#FFA500", "#008000"]}, "legend": {"title": null}},
     "shape": {"field": "lidar", "type": "nominal", "scale": {"domain": ["Na Lidar", "RSL Lidar"], "range": ["M-1,0A1,1,0,1,0,1,0A1,1,0,1,0,-1,0ZM1.82,0A1,1,0,1,0,3.82,0A1,1,0,1,0,1.82,0ZM4.64,0A1,1,0,1,0,6.64,0A1,1,0,1,0,4.64,0Z", "M0,-0.95L0.95,0.75L-0.95,0.75ZM2.82,-0.95L3.77,0.75L1.87,0.75ZM5.64,-0.95L6.59,0.75L4.69,0.75Z"]}, "legend": {"title": null}}}},
   {"data": {"values": [{}]}, "mark": {"type": "point", "opacity": 0},
    "encoding": {
     "x": {"datum": 0, "type": "quantitative", "axis": {"orient": "top", "values": [1,2,3,4,5,6,7,8,9,11,12,13,14,15,16,17,18,19,21,22,23,24,25,26,27,28,29,31,32,33,34,35,36,37,38,39,41,42,43,44], "tickSize": -12, "labels": false, "domain": false, "title": null}},
     "y": {"datum": 200, "type": "quantitative", "axis": {"orient": "right", "values": [165,170,175,185,190,195,205,210,215,225,230,235,245,250,255], "tickSize": -14, "labels": false, "domain": false, "title": null}}}},
   {"data": {"values": [{}]}, "mark": {"type": "text", "align": "right", "baseline": "alphabetic", "font": "Liberation Sans", "fontWeight": "bold", "fontSize": 54, "color": "black"},
    "encoding": {"x": {"datum": 42.7, "type": "quantitative", "axis": null}, "y": {"datum": 248.3, "type": "quantitative", "axis": null}, "text": {"value": "100 km"}}}
  ],
  "resolve": {"axis": {"x": "independent", "y": "independent"}}},
 {"width": 719, "height": 579,
  "layer": [
   {"data": {"name": "temps"}, "transform": [{"filter": "datum.alt == 105 && datum.lidar == 'Na Lidar'"}],
    "mark": {"type": "circle", "color": "#FFA500", "size": 530, "opacity": 1, "clip": true},
    "encoding": {
     "x": {"field": "di", "type": "quantitative", "scale": {"domain": [-1, 45], "nice": false, "zero": false}, "axis": {"orient": "bottom", "values": [0,10,20,30,40], "tickSize": -27, "labels": false, "title": null}},
     "y": {"field": "T", "type": "quantitative", "scale": {"domain": [160, 260], "nice": false, "zero": false}, "axis": {"orient": "left", "values": [160,180,200,220,240,260], "tickSize": -26, "labelPadding": 41, "title": "Temperature (K)", "titlePadding": 12}}}},
   {"data": {"name": "temps"}, "transform": [{"filter": "datum.alt == 105 && datum.lidar == 'RSL Lidar'"}],
    "mark": {"type": "point", "shape": "triangle-up", "filled": true, "color": "#008000", "size": 560, "opacity": 1, "clip": true},
    "encoding": {
     "x": {"field": "di", "type": "quantitative", "axis": {"orient": "bottom", "values": [1,2,3,4,5,6,7,8,9,11,12,13,14,15,16,17,18,19,21,22,23,24,25,26,27,28,29,31,32,33,34,35,36,37,38,39,41,42,43,44], "tickSize": -14, "labels": false, "domain": false, "title": null}},
     "y": {"field": "T", "type": "quantitative", "axis": {"orient": "left", "values": [165,170,175,185,190,195,205,210,215,225,230,235,245,250,255], "tickSize": -14, "labels": false, "domain": false, "title": null}}}},
   {"data": {"name": "temps"}, "transform": [{"filter": "false"}],
    "mark": {"type": "point", "filled": true, "opacity": 1},
    "encoding": {
     "x": {"field": "di", "type": "quantitative", "axis": {"orient": "top", "values": [0,10,20,30,40], "tickSize": -25, "labels": false, "title": null}},
     "y": {"field": "T", "type": "quantitative", "axis": {"orient": "right", "values": [160,180,200,220,240,260], "tickSize": -26, "labels": false, "title": null}},
     "color": {"field": "lidar", "type": "nominal", "scale": {"domain": ["Na Lidar", "RSL Lidar"], "range": ["#FFA500", "#008000"]}, "legend": {"title": null}},
     "shape": {"field": "lidar", "type": "nominal", "scale": {"domain": ["Na Lidar", "RSL Lidar"], "range": ["M-1,0A1,1,0,1,0,1,0A1,1,0,1,0,-1,0ZM1.82,0A1,1,0,1,0,3.82,0A1,1,0,1,0,1.82,0ZM4.64,0A1,1,0,1,0,6.64,0A1,1,0,1,0,4.64,0Z", "M0,-0.95L0.95,0.75L-0.95,0.75ZM2.82,-0.95L3.77,0.75L1.87,0.75ZM5.64,-0.95L6.59,0.75L4.69,0.75Z"]}, "legend": {"title": null}}}},
   {"data": {"values": [{}]}, "mark": {"type": "point", "opacity": 0},
    "encoding": {
     "x": {"datum": 0, "type": "quantitative", "axis": {"orient": "top", "values": [1,2,3,4,5,6,7,8,9,11,12,13,14,15,16,17,18,19,21,22,23,24,25,26,27,28,29,31,32,33,34,35,36,37,38,39,41,42,43,44], "tickSize": -12, "labels": false, "domain": false, "title": null}},
     "y": {"datum": 200, "type": "quantitative", "axis": {"orient": "right", "values": [165,170,175,185,190,195,205,210,215,225,230,235,245,250,255], "tickSize": -14, "labels": false, "domain": false, "title": null}}}},
   {"data": {"values": [{}]}, "mark": {"type": "text", "align": "right", "baseline": "alphabetic", "font": "Liberation Sans", "fontWeight": "bold", "fontSize": 54, "color": "black"},
    "encoding": {"x": {"datum": 42.7, "type": "quantitative", "axis": null}, "y": {"datum": 248.3, "type": "quantitative", "axis": null}, "text": {"value": "105 km"}}}
  ],
  "resolve": {"axis": {"x": "independent", "y": "independent"}}},
 {"width": 682, "height": 579,
  "data": {"name": "caption"},
  "mark": {"type": "text", "align": "left", "baseline": "middle", "font": "Lato", "fontWeight": "bold", "fontSize": 48, "color": "#243C60", "dx": -190, "limit": 873, "ellipsis": "\u200b"},
  "encoding": {
   "x": {"value": 0},
   "y": {"field": "line", "type": "quantitative", "scale": {"domain": [0.745, 8.958], "reverse": true, "nice": false, "zero": false}, "axis": null},
   "text": {"field": "text"}}},

 {"width": 719, "height": 196,
  "layer": [
   {"data": {"values": [{}]}, "mark": {"type": "rule", "color": "#8B2F2F", "strokeWidth": 3, "strokeDash": [15, 10]},
    "encoding": {
     "x": {"datum": 0, "type": "quantitative", "scale": {"domain": [-1, 45], "nice": false, "zero": false}, "axis": {"orient": "bottom", "values": [1,2,3,4,5,6,7,8,9,11,12,13,14,15,16,17,18,19,21,22,23,24,25,26,27,28,29,31,32,33,34,35,36,37,38,39,41,42,43,44], "tickSize": -8, "labels": false, "domain": false, "title": null}},
     "x2": {"datum": 42},
     "y": {"datum": 0, "type": "quantitative", "scale": {"domain": [-30, 30], "nice": false, "zero": false}, "axis": {"orient": "left", "values": [-29,-28,-27,-26,-25,-24,-23,-22,-21,-19,-18,-17,-16,-15,-14,-13,-12,-11,-9,-8,-7,-6,-5,-4,-3,-2,-1,1,2,3,4,5,6,7,8,9,11,12,13,14,15,16,17,18,19,21,22,23,24,25,26,27,28,29], "tickSize": -6, "labels": false, "domain": false, "title": null}}}},
   {"data": {"name": "diffs"}, "transform": [{"filter": "datum.alt == 100"}],
    "mark": {"type": "point", "shape": "M0,-1.17L1,0L0,1.17L-1,0Z", "filled": true, "color": "black", "size": 576, "opacity": 1, "clip": true},
    "encoding": {
     "x": {"field": "di", "type": "quantitative", "axis": {"orient": "bottom", "values": [0,10,20,30,40], "tickSize": -16, "labelPadding": 15, "title": "Date Index", "titlePadding": 0}},
     "y": {"field": "d", "type": "quantitative", "axis": {"orient": "left", "values": [-30,-20,-10,0,10,20,30], "tickSize": -15, "labelPadding": 30, "title": "Tᵣₛₗ - Tₙₐ (K)", "titleFontSize": 30, "titlePadding": 10}}}},
   {"data": {"values": [{}]}, "mark": {"type": "point", "opacity": 0},
    "encoding": {
     "x": {"datum": 0, "type": "quantitative", "axis": {"orient": "top", "values": [0,10,20,30,40], "tickSize": -16, "labels": false, "title": null}},
     "y": {"datum": 0, "type": "quantitative", "axis": {"orient": "right", "values": [-30,-20,-10,0,10,20,30], "tickSize": -15, "labels": false, "title": null}}}},
   {"data": {"values": [{}]}, "mark": {"type": "point", "opacity": 0},
    "encoding": {
     "x": {"datum": 0, "type": "quantitative", "axis": {"orient": "top", "values": [1,2,3,4,5,6,7,8,9,11,12,13,14,15,16,17,18,19,21,22,23,24,25,26,27,28,29,31,32,33,34,35,36,37,38,39,41,42,43,44], "tickSize": -8, "labels": false, "domain": false, "title": null}},
     "y": {"datum": 0, "type": "quantitative", "axis": {"orient": "right", "values": [-29,-28,-27,-26,-25,-24,-23,-22,-21,-19,-18,-17,-16,-15,-14,-13,-12,-11,-9,-8,-7,-6,-5,-4,-3,-2,-1,1,2,3,4,5,6,7,8,9,11,12,13,14,15,16,17,18,19,21,22,23,24,25,26,27,28,29], "tickSize": -6, "labels": false, "domain": false, "title": null}}}}
  ],
  "resolve": {"axis": {"x": "independent", "y": "independent"}}},
 {"width": 719, "height": 196,
  "layer": [
   {"data": {"values": [{}]}, "mark": {"type": "rule", "color": "#8B2F2F", "strokeWidth": 3, "strokeDash": [15, 10]},
    "encoding": {
     "x": {"datum": 0, "type": "quantitative", "scale": {"domain": [-1, 45], "nice": false, "zero": false}, "axis": {"orient": "bottom", "values": [1,2,3,4,5,6,7,8,9,11,12,13,14,15,16,17,18,19,21,22,23,24,25,26,27,28,29,31,32,33,34,35,36,37,38,39,41,42,43,44], "tickSize": -8, "labels": false, "domain": false, "title": null}},
     "x2": {"datum": 42},
     "y": {"datum": 0, "type": "quantitative", "scale": {"domain": [-30, 30], "nice": false, "zero": false}, "axis": {"orient": "left", "values": [-29,-28,-27,-26,-25,-24,-23,-22,-21,-19,-18,-17,-16,-15,-14,-13,-12,-11,-9,-8,-7,-6,-5,-4,-3,-2,-1,1,2,3,4,5,6,7,8,9,11,12,13,14,15,16,17,18,19,21,22,23,24,25,26,27,28,29], "tickSize": -6, "labels": false, "domain": false, "title": null}}}},
   {"data": {"name": "diffs"}, "transform": [{"filter": "datum.alt == 105"}],
    "mark": {"type": "point", "shape": "M0,-1.17L1,0L0,1.17L-1,0Z", "filled": true, "color": "black", "size": 576, "opacity": 1, "clip": true},
    "encoding": {
     "x": {"field": "di", "type": "quantitative", "axis": {"orient": "bottom", "values": [0,10,20,30,40], "tickSize": -16, "labelPadding": 15, "title": "Date Index", "titlePadding": 0}},
     "y": {"field": "d", "type": "quantitative", "axis": {"orient": "left", "values": [-30,-20,-10,0,10,20,30], "tickSize": -15, "labelPadding": 30, "title": "Tᵣₛₗ - Tₙₐ (K)", "titleFontSize": 30, "titlePadding": 10}}}},
   {"data": {"values": [{}]}, "mark": {"type": "point", "opacity": 0},
    "encoding": {
     "x": {"datum": 0, "type": "quantitative", "axis": {"orient": "top", "values": [0,10,20,30,40], "tickSize": -16, "labels": false, "title": null}},
     "y": {"datum": 0, "type": "quantitative", "axis": {"orient": "right", "values": [-30,-20,-10,0,10,20,30], "tickSize": -15, "labels": false, "title": null}}}},
   {"data": {"values": [{}]}, "mark": {"type": "point", "opacity": 0},
    "encoding": {
     "x": {"datum": 0, "type": "quantitative", "axis": {"orient": "top", "values": [1,2,3,4,5,6,7,8,9,11,12,13,14,15,16,17,18,19,21,22,23,24,25,26,27,28,29,31,32,33,34,35,36,37,38,39,41,42,43,44], "tickSize": -8, "labels": false, "domain": false, "title": null}},
     "y": {"datum": 0, "type": "quantitative", "axis": {"orient": "right", "values": [-29,-28,-27,-26,-25,-24,-23,-22,-21,-19,-18,-17,-16,-15,-14,-13,-12,-11,-9,-8,-7,-6,-5,-4,-3,-2,-1,1,2,3,4,5,6,7,8,9,11,12,13,14,15,16,17,18,19,21,22,23,24,25,26,27,28,29], "tickSize": -6, "labels": false, "domain": false, "title": null}}}}
  ],
  "resolve": {"axis": {"x": "independent", "y": "independent"}}},
 {"width": 1, "height": 1, "data": {"values": [{}]}, "mark": {"type": "point", "opacity": 0}}
]
}
